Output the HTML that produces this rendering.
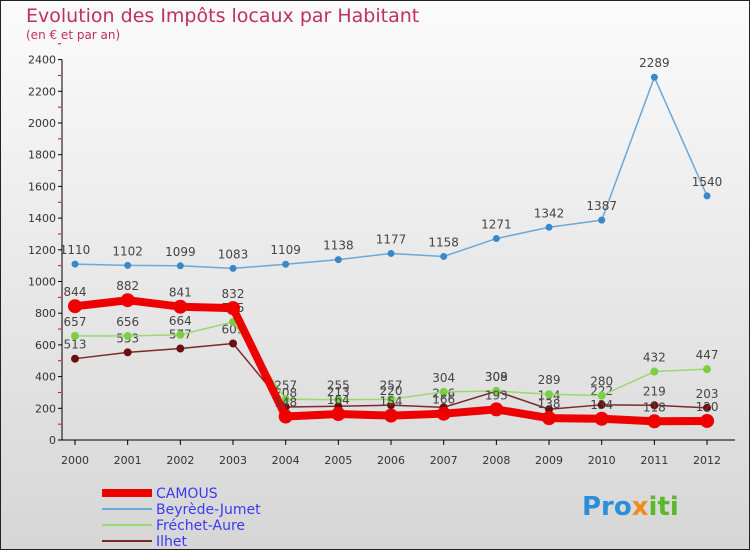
<!DOCTYPE html>
<html><head><meta charset="utf-8"><style>
body{margin:0}
#c{width:750px;height:550px;position:relative;overflow:hidden;font-family:"DejaVu Sans","Liberation Sans",sans-serif}
</style></head><body>
<div id="c">
<svg id="s" width="750" height="550" xmlns="http://www.w3.org/2000/svg">
<defs><linearGradient id="bg" x1="0" y1="0" x2="0" y2="1"><stop offset="0" stop-color="#fbfbfb"/><stop offset="1" stop-color="#d6d6d6"/></linearGradient></defs>
<rect x="0.5" y="0.5" width="749" height="549" fill="url(#bg)" stroke="#222"/>
<text x="26" y="22" font-size="19" fill="#c0305a">Evolution des Impôts locaux par Habitant</text>
<text x="26" y="39" font-size="12" fill="#c0305a">(en € et par an)</text>
<g id="axes"></g><g id="series"></g><g id="legend"></g>
<text x="582" y="515" font-size="26" font-weight="bold" fill="#2a8fd8">Pro<tspan fill="#f08a1c">x</tspan><tspan fill="#5cb82a">iti</tspan></text>
</svg></div>
<script>
const years=["2000","2001","2002","2003","2004","2005","2006","2007","2008","2009","2010","2011","2012"];
const yTicks=[0,200,400,600,800,1000,1200,1400,1600,1800,2000,2200,2400];
const camous=[844,882,841,832,148,164,154,166,193,138,134,118,120];
const beyrede=[1110,1102,1099,1083,1109,1138,1177,1158,1271,1342,1387,2289,1540];
const frechet=[657,656,664,745,257,255,257,304,309,289,280,432,447];
const ilhet=[513,553,577,609,208,213,220,206,308,194,222,219,203];
const NS="http://www.w3.org/2000/svg";
function X(i){return 75+i*52.67}
function Y(v){return 440-v*0.1585}
function mk(p,t,a){const e=document.createElementNS(NS,t);for(const k in a)e.setAttribute(k,a[k]);p.appendChild(e);return e}
const ax=document.getElementById('axes');
let a=mk(ax,'line',{x1:62,y1:Y(0),x2:62,y2:Y(2400),stroke:'#000'});

a=mk(ax,'line',{x1:62,y1:Y(0),x2:735,y2:Y(0),stroke:'#000'});

yTicks.forEach(v=>{
 mk(ax,'line',{x1:58,y1:Y(v),x2:62,y2:Y(v),stroke:'#000'});
 mk(ax,'line',{x1:58,y1:Y(v+100),x2:61,y2:Y(v+100),stroke:'#e00'});
 const t=mk(ax,'text',{x:56,y:Y(v)+4,'font-size':11,'text-anchor':'end',fill:'#333'});t.textContent=v;
 
});
years.forEach((y,i)=>{
 mk(ax,'line',{x1:X(i),y1:440,x2:X(i),y2:445,stroke:'#000'});
 const t=mk(ax,'text',{x:X(i),y:464,'font-size':11,'text-anchor':'middle',fill:'#333'});t.textContent=y;
 
});
const sg=document.getElementById('series');
function draw(data,col,w,r,name,lab,pcol){
 const g=mk(sg,'g',{});
 
 mk(g,'polyline',{points:data.map((v,i)=>X(i)+','+Y(v)).join(' '),fill:'none',stroke:col,'stroke-width':w,'stroke-linejoin':'round'});
 data.forEach((v,i)=>{
  const c=mk(g,'circle',{cx:X(i),cy:Y(v),r:r,fill:pcol||col});
  
  if(lab){const t=mk(g,'text',{x:X(i),y:Y(v)-10,'font-size':12,'text-anchor':'middle',fill:'#444'});t.textContent=v;
   }
 });
}
draw(beyrede,'#6aa8d8',1.5,3.5,'beyrede','1','#3a88c8');
draw(ilhet,'#7a2a2a',1.5,4,'ilhet','1','#6a1010');
draw(frechet,'#9ad870',1.5,4,'frechet','1','#7ad040');
draw(camous,'#ee0000',8,7,'camous','1','#ee0000');
const lg=document.getElementById('legend');
[["CAMOUS","#ee0000",8],["Beyrède-Jumet","#6aa8d8",2],["Fréchet-Aure","#9ad870",2],["Ilhet","#7a2a2a",2]].forEach((e,i)=>{
 const y=493+i*16;
 const g=mk(lg,'g',{});
 mk(g,'line',{x1:102,y1:y,x2:152,y2:y,stroke:e[1],'stroke-width':e[2]});
 const t=mk(g,'text',{x:156,y:y+5,'font-size':14,fill:'#3a3aee'});t.textContent=e[0];
});
</script>
</body></html>
